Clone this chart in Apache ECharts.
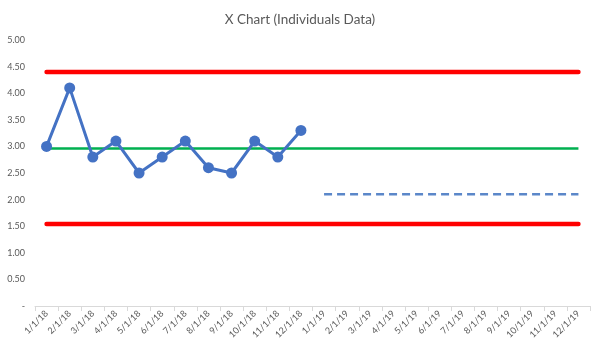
<!DOCTYPE html>
<html><head><meta charset="utf-8">
<script src="https://cdn.jsdelivr.net/npm/echarts@6/dist/echarts.min.js"></script>
<style>html,body{margin:0;padding:0;background:#fff}#c{width:600px;height:351px}</style>
</head><body><div id="c"></div>
<script>
var categories = ['1/1/18','2/1/18','3/1/18','4/1/18','5/1/18','6/1/18','7/1/18','8/1/18','9/1/18','10/1/18','11/1/18','12/1/18',
  '1/1/19','2/1/19','3/1/19','4/1/19','5/1/19','6/1/19','7/1/19','8/1/19','9/1/19','10/1/19','11/1/19','12/1/19'];
var values = [3.0, 4.1, 2.8, 3.1, 2.5, 2.8, 3.1, 2.6, 2.5, 3.1, 2.8, 3.3];
var upperLimit = 4.40;
var centerLine = 2.96;
var lowerLimit = 1.54;
var newCenter = 2.10;
var newCenterStart = 12;

var ucl = categories.map(function(){return upperLimit;});
var cl = categories.map(function(){return centerLine;});
var lcl = categories.map(function(){return lowerLimit;});
var nc = categories.map(function(c,i){return i>=newCenterStart?newCenter:null;});

var chart = echarts.init(document.getElementById('c'));
var fontFam = "Lato, 'Open Sans', sans-serif";
chart.setOption({
  animation:false,
  title:{text:'X Chart (Individuals Data)',left:'center',top:8,textStyle:{fontFamily:fontFam,fontSize:13.5,fontWeight:'normal',color:'#595959'}},
  grid:{left:35,right:10,top:40,bottom:45},
  xAxis:{type:'category',data:categories,boundaryGap:true,
    axisLine:{lineStyle:{color:'#d9d9d9'}},axisTick:{show:true,length:5,lineStyle:{color:'#d9d9d9'}},
    axisLabel:{rotate:45,fontFamily:fontFam,fontSize:9,color:'#595959',margin:6,interval:0}},
  yAxis:{type:'value',min:0,max:5,interval:0.5,splitLine:{show:false},axisLine:{show:false},axisTick:{show:false},
    axisLabel:{fontFamily:fontFam,fontSize:9,color:'#595959',margin:10,formatter:function(v){return v===0?'-':v.toFixed(2);}}},
  series:[
    {type:'line',data:ucl,symbol:'none',lineStyle:{color:'#ff0000',width:4.5,cap:'round'},z:1},
    {type:'line',data:lcl,symbol:'none',lineStyle:{color:'#ff0000',width:4.5,cap:'round'},z:1},
    {type:'line',data:cl,symbol:'none',lineStyle:{color:'#00b050',width:2.5},z:1},
    {type:'line',data:nc,symbol:'none',lineStyle:{color:'#5b87c9',width:2.5,type:[8,5]},z:1},
    {type:'line',data:values,symbol:'circle',symbolSize:11,itemStyle:{color:'#4472c4'},lineStyle:{color:'#4472c4',width:3},z:3}
  ]
});
</script></body></html>
